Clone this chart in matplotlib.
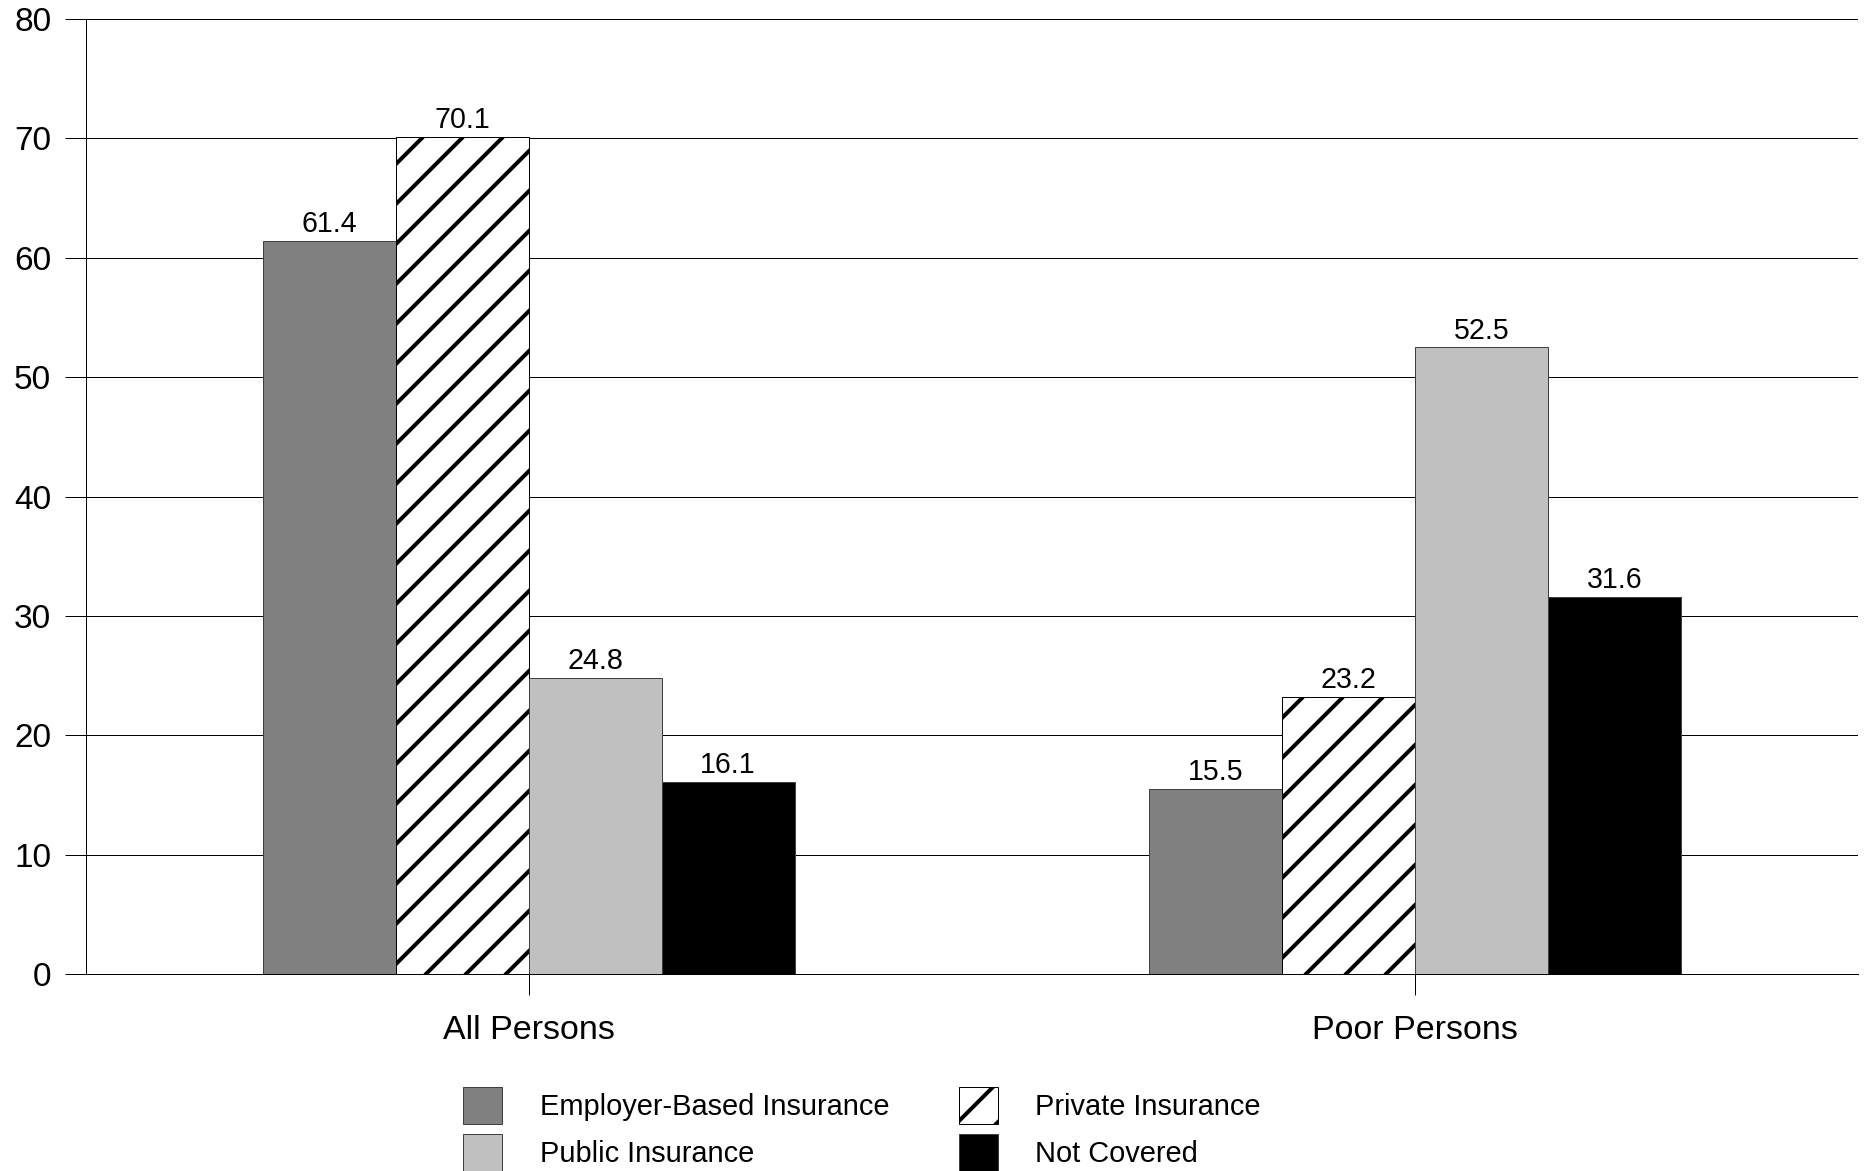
import matplotlib.pyplot as plt
import numpy as np

categories = ["All Persons", "Poor Persons"]
series_names = ["Employer-Based Insurance", "Private Insurance", "Public Insurance", "Not Covered"]
employer = [61.4, 15.5]
private = [70.1, 23.2]
public = [24.8, 52.5]
not_covered = [16.1, 31.6]
y_ticks = [0, 10, 20, 30, 40, 50, 60, 70, 80]

plt.rcParams["font.family"] = ["Liberation Sans", "DejaVu Sans"]
plt.rcParams["hatch.linewidth"] = 1.2
plt.rcParams["hatch.color"] = "black"

dpi = 240
fig = plt.figure(figsize=(1864 / dpi, 1171 / dpi), dpi=dpi)
ax = fig.add_axes([0.0459, 0.1682, 0.9968 - 0.0459, 0.9838 - 0.1682])

x = np.arange(len(categories))
width = 0.15
values = [employer, private, public, not_covered]
styles = [
    dict(color="#808080", edgecolor="#404040"),
    dict(color="white", edgecolor="black", hatch="//"),
    dict(color="#c0c0c0", edgecolor="#404040"),
    dict(color="black", edgecolor="#404040"),
]

handles = []
for i, (vals, name, st) in enumerate(zip(values, series_names, styles)):
    bars = ax.bar(x + (i - 1.5) * width, vals, width, label=name, linewidth=0.3, zorder=3, **st)
    handles.append(bars)
    for b, v in zip(bars, vals):
        ax.annotate(f"{v:.1f}", (b.get_x() + b.get_width() / 2, v), xytext=(0, 2.6),
                    textcoords="offset points", ha="center", va="baseline", fontsize=8.6)

ax.set_xlim(-0.5, 1.5)
ax.set_ylim(0, 80)
ax.set_yticks(y_ticks)
ax.set_xticks(x)
ax.set_xticklabels(categories, fontsize=10.2)
ax.tick_params(axis="y", labelsize=10, length=6.3, width=0.3, pad=4)
ax.tick_params(axis="x", length=6.3, width=0.3, pad=6)
ax.yaxis.grid(True, color="black", linewidth=0.3, zorder=0)
ax.set_axisbelow(True)

for side in ["top", "right"]:
    ax.spines[side].set_visible(False)
for side in ["left", "bottom"]:
    ax.spines[side].set_linewidth(0.3)
    ax.spines[side].set_color("black")

order = [0, 2, 1, 3]
fig.legend([handles[i] for i in order], [series_names[i] for i in order],
           loc="center", bbox_to_anchor=(0.4625, 0.036), ncol=2, frameon=False,
           fontsize=8.7, handlelength=1.34, handleheight=1.6, handletextpad=1.3,
           columnspacing=2.4, labelspacing=0.35, borderpad=0)

fig.savefig("out.png", dpi=dpi)
